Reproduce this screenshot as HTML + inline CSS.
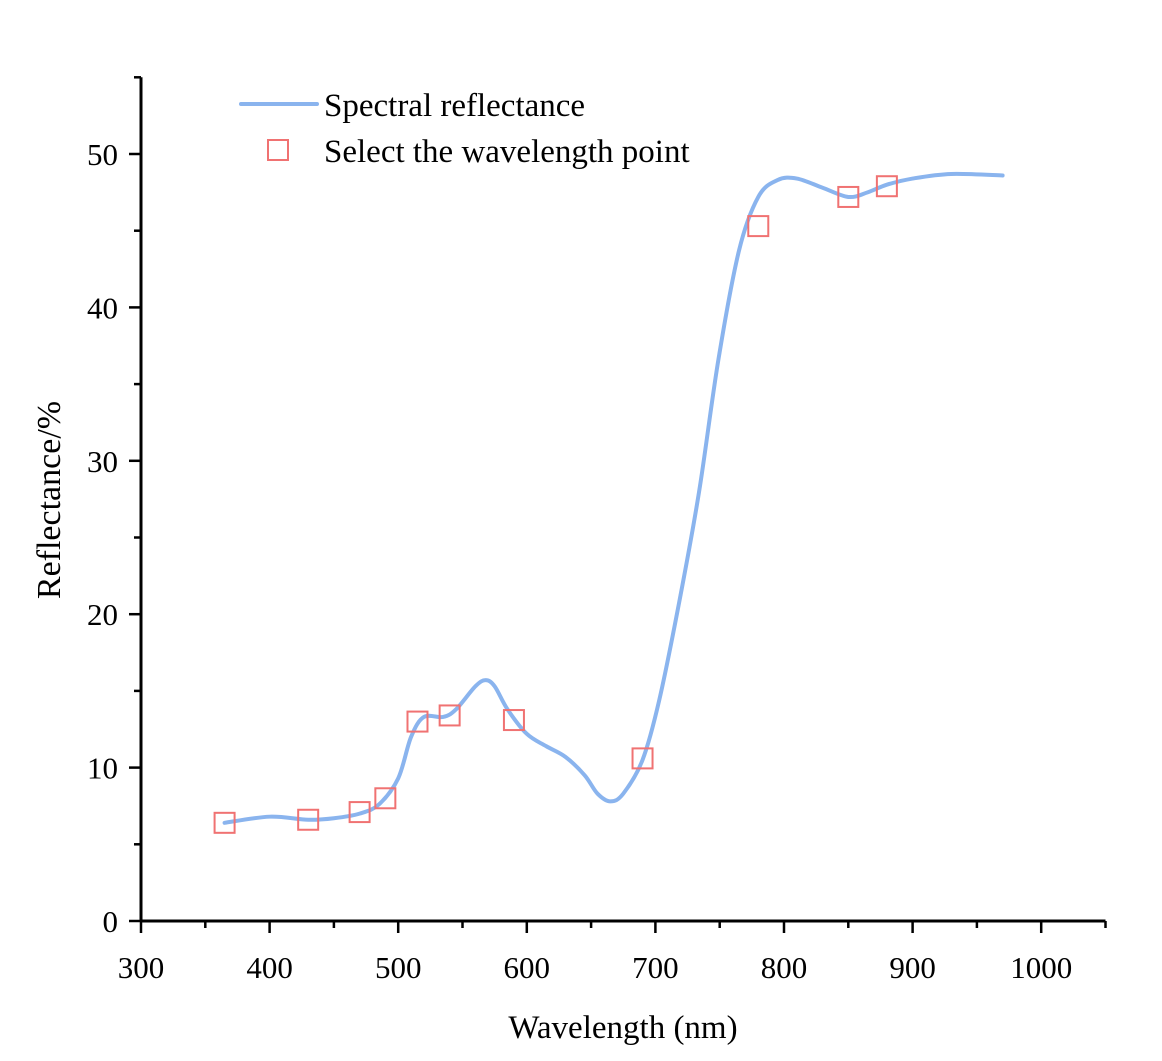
<!DOCTYPE html>
<html><head><meta charset="utf-8"><style>body{margin:0;background:#fff}svg{display:block;font-family:"Liberation Serif",serif}</style></head>
<body>
<svg id="chart" width="1162" height="1061"></svg>
<script>
const curveX=[365,400,430,450,470,485,500,510,520,535,545,560,568,575,585,600,615,630,645,655,665,675,690,703,719,734,749,765,780,795,810,830,850,865,880,900,930,970];
const curveY=[6.4,6.8,6.6,6.7,7.0,7.6,9.3,12.0,13.3,13.3,13.8,15.3,15.7,15.3,13.8,12.2,11.4,10.7,9.5,8.3,7.8,8.3,10.5,14.4,21,28,36.6,43.7,47.2,48.3,48.4,47.8,47.2,47.5,48.0,48.4,48.7,48.6];
const pointX=[365,430,470,490,515,540,590,690,780,850,880];
const pointY=[6.4,6.6,7.1,8.0,13.0,13.4,13.1,10.6,45.3,47.2,47.9];
const xTicks=[300,400,500,600,700,800,900,1000];
const yTicks=[0,10,20,30,40,50];
const NS='http://www.w3.org/2000/svg';
const svg=document.getElementById('chart');
const sx=v=>141+(v-300)*1.286;
const sy=v=>921-v*15.34;
function mk(t,a,p){const e=document.createElementNS(NS,t);for(const k in a)e.setAttribute(k,a[k]);(p||svg).appendChild(e);return e;}
let ax=mk('line',{x1:141,y1:921,x2:sx(1050),y2:921,stroke:'#000','stroke-width':3});


let ay=mk('line',{x1:141,y1:sy(55),x2:141,y2:922,stroke:'#000','stroke-width':3});


for(let v=300;v<=1050;v+=50){const maj=v%100===0;mk('line',{x1:sx(v),y1:921,x2:sx(v),y2:921+(maj?12:7),stroke:'#000','stroke-width':2.5});}
xTicks.forEach(v=>{const t=mk('text',{x:sx(v),y:978,'font-size':31,'text-anchor':'middle'});t.textContent=v;

});
for(let v=0;v<=55;v+=5){const maj=v%10===0;mk('line',{x1:141,y1:sy(v),x2:141-(maj?12:7),y2:sy(v),stroke:'#000','stroke-width':2.5});}
yTicks.forEach(v=>{const t=mk('text',{x:118,y:sy(v)+11,'font-size':31,'text-anchor':'end'});t.textContent=v;

});
let xt=mk('text',{x:623,y:1038,'font-size':33,'text-anchor':'middle'});xt.textContent='Wavelength (nm)';


let yt=mk('text',{x:0,y:0,'font-size':34,'text-anchor':'middle',transform:'translate(60,500) rotate(-90)'});yt.textContent='Reflectance/%';


const P=curveX.map((x,i)=>[sx(x),sy(curveY[i])]);
let d='M'+P[0][0]+','+P[0][1];
for(let i=0;i<P.length-1;i++){const p0=P[Math.max(0,i-1)],p1=P[i],p2=P[i+1],p3=P[Math.min(P.length-1,i+2)];
d+=` C${p1[0]+(p2[0]-p0[0])/6},${p1[1]+(p2[1]-p0[1])/6} ${p2[0]-(p3[0]-p1[0])/6},${p2[1]-(p3[1]-p1[1])/6} ${p2[0]},${p2[1]}`;}
let cv=mk('path',{d:d,fill:'none',stroke:'#8ab4ee','stroke-width':4,'stroke-linecap':'round'});


pointX.forEach((x,i)=>{const r=mk('rect',{x:sx(x)-10,y:sy(pointY[i])-10,width:20,height:20,fill:'none',stroke:'#f07272','stroke-width':2});

});
let l1=mk('line',{x1:241,y1:104,x2:317,y2:104,stroke:'#8ab4ee','stroke-width':4,'stroke-linecap':'round'});


let t1=mk('text',{x:324,y:116,'font-size':33});t1.textContent='Spectral reflectance';


let l2=mk('rect',{x:268,y:140,width:20,height:20,fill:'none',stroke:'#f07272','stroke-width':2});


let t2=mk('text',{x:324,y:162,'font-size':33});t2.textContent='Select the wavelength point';


</script>
</body></html>
